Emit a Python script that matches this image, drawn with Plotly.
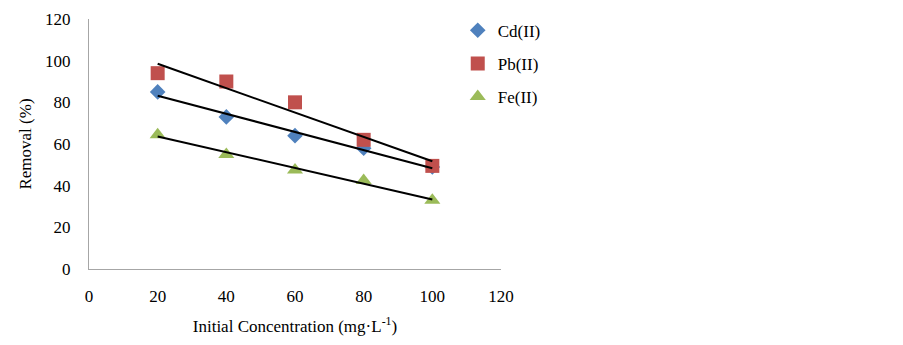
import numpy as np
import plotly.graph_objects as go

conc = [20, 40, 60, 80, 100]
cd = [85, 73, 64, 58, 49]
pb = [94, 90, 80, 62, 49.5]
fe = [64.5, 55, 47.5, 42.5, 33]
names = ["Cd(II)", "Pb(II)", "Fe(II)"]
colors = ["#4F81BD", "#C0504D", "#9BBB59"]
symbols = ["diamond", "square", "triangle-up"]
sizes = [12, 14, 14]

FONT = "Liberation Serif, Times New Roman, serif"
fig = go.Figure()
for i, ys in enumerate([cd, pb, fe]):
    fig.add_trace(go.Scatter(x=conc, y=ys, mode="markers", name=names[i],
                             legendgroup=names[i],
                             marker=dict(symbol=symbols[i], size=sizes[i], color=colors[i])))
for ys in [cd, pb, fe]:
    k, b = np.polyfit(conc, ys, 1)
    xs = [conc[0], conc[-1]]
    fig.add_trace(go.Scatter(x=xs, y=[k * x + b for x in xs], mode="lines",
                             line=dict(color="black", width=2), showlegend=False,
                             hoverinfo="skip"))

fig.update_layout(
    width=903, height=345,
    margin=dict(l=81, r=410, t=11, b=84, autoexpand=False),
    plot_bgcolor="white", paper_bgcolor="white",
    font=dict(family=FONT, size=17, color="black"),
    showlegend=True,
    legend=dict(x=0.895, y=1.025, xanchor="left", yanchor="top",
                font=dict(family=FONT, size=17), tracegroupgap=8,
                itemwidth=30, bgcolor="rgba(0,0,0,0)"),
    xaxis=dict(range=[0, 120], tickvals=[0, 20, 40, 60, 80, 100, 120],
               showgrid=False, zeroline=False, showline=True, linecolor="#A6A6A6",
               linewidth=1, ticks="", ticklabelstandoff=12, automargin=False,
               ticklabeloverflow="allow",
               title=dict(text="Initial Concentration (mg·L<sup>-1</sup>)",
                          font=dict(family=FONT, size=17), standoff=14)),
    yaxis=dict(range=[0, 120], tickvals=[0, 20, 40, 60, 80, 100, 120],
               showgrid=False, zeroline=False, showline=True, linecolor="#A6A6A6",
               linewidth=1, ticks="", ticklabelstandoff=14, automargin=False,
               ticklabeloverflow="allow",
               title=dict(text="Removal (%)", font=dict(family=FONT, size=17), standoff=9)),
)
fig.write_html("out.html")
